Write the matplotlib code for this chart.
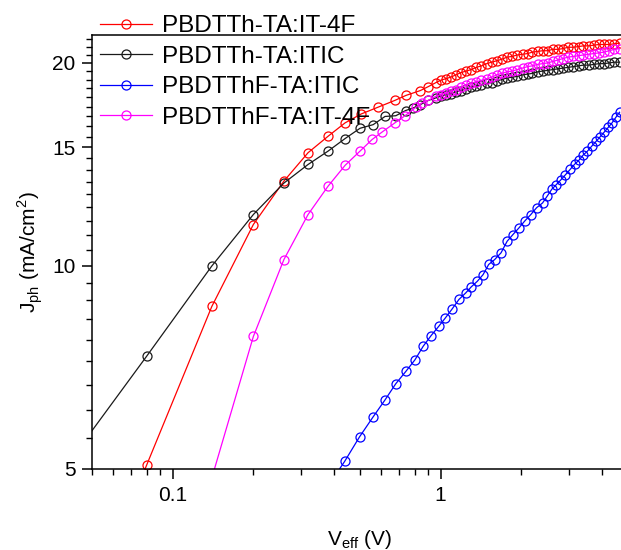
import numpy as np
import matplotlib
matplotlib.use("Agg")
import matplotlib.pyplot as plt
from matplotlib.ticker import FixedLocator, LogLocator, NullFormatter

plt.rcParams['font.family'] = ['Liberation Sans', 'DejaVu Sans']
plt.rcParams['mathtext.fontset'] = 'custom'
plt.rcParams['mathtext.rm'] = 'Liberation Sans'

labels = ["PBDTTh-TA:IT-4F", "PBDTTh-TA:ITIC", "PBDTThF-TA:ITIC", "PBDTThF-TA:IT-4F"]
colors = ["#ff0000", "#1a1a1a", "#0000ff", "#ff00ff"]

# V_eff values in the dense high-field part
x_hi = [1.0, 1.045, 1.09, 1.14, 1.19, 1.245, 1.3, 1.36, 1.42, 1.485, 1.55, 1.62, 1.69,
        1.77, 1.85, 1.93, 2.02, 2.11, 2.2, 2.3, 2.4, 2.51, 2.62, 2.74, 2.86, 2.99, 3.13,
        3.27, 3.41, 3.57, 3.73, 3.9, 4.07, 4.25, 4.45, 4.65]

# PBDTTh-TA:IT-4F
x_red = [0.02, 0.08, 0.14, 0.20, 0.26, 0.32, 0.38, 0.44, 0.505, 0.585, 0.675, 0.742,
         0.84, 0.9, 0.96] + x_hi
y_red = [1.3, 5.07, 8.71, 11.52, 13.36, 14.72, 15.57, 16.3, 16.8, 17.2, 17.6, 17.9,
         18.2, 18.45, 18.7,
         18.85, 18.95, 19.05, 19.2, 19.35, 19.45, 19.55, 19.7, 19.8, 19.95, 20.05, 20.15, 20.25,
         20.4, 20.45, 20.55, 20.6, 20.65, 20.75, 20.8, 20.85, 20.85, 20.95, 20.95, 21.0, 21.1,
         21.1, 21.15, 21.2, 21.2, 21.25, 21.3, 21.3, 21.3, 21.35, 21.4]

# PBDTTh-TA:ITIC
x_blk = [0.02, 0.08, 0.14, 0.20, 0.26, 0.32, 0.38, 0.44, 0.50, 0.56, 0.62, 0.68, 0.74,
         0.79, 0.84, 0.9, 0.96] + x_hi
y_blk = [3.47, 7.35, 10.0, 11.92, 13.27, 14.14, 14.8, 15.45, 16.0, 16.2, 16.66, 16.7, 17.0,
         17.15, 17.35, 17.6, 17.75,
         17.85, 17.95, 18.0, 18.1, 18.2, 18.3, 18.4, 18.5, 18.55, 18.65, 18.7, 18.8, 18.9,
         19.0, 19.05, 19.1, 19.2, 19.25, 19.3, 19.4, 19.45, 19.5, 19.55, 19.6, 19.65, 19.7,
         19.75, 19.8, 19.85, 19.85, 19.9, 19.95, 19.95, 20.0, 20.05, 20.05]

# PBDTThF-TA:ITIC
x_blu = [0.38, 0.438, 0.498, 0.559, 0.62, 0.68, 0.742, 0.802, 0.86, 0.92, 0.984, 1.04,
         1.10, 1.17, 1.24, 1.30, 1.37, 1.44, 1.51, 1.59, 1.68, 1.77, 1.86, 1.96, 2.06,
         2.17, 2.28, 2.4, 2.5, 2.6, 2.7, 2.8, 2.92, 3.04, 3.16, 3.28, 3.4, 3.53, 3.66,
         3.8, 3.94, 4.08, 4.22, 4.36, 4.5, 4.65]
y_blu = [4.72, 5.13, 5.58, 5.97, 6.33, 6.69, 6.98, 7.26, 7.6, 7.88, 8.14, 8.37,
         8.62, 8.92, 9.12, 9.31, 9.49, 9.71, 10.05, 10.22, 10.46, 10.88, 11.13, 11.39, 11.66,
         11.92, 12.2, 12.4, 12.7, 13.0, 13.2, 13.4, 13.65, 13.9, 14.15, 14.35, 14.6, 14.8, 15.05,
         15.3, 15.55, 15.8, 16.05, 16.3, 16.6, 16.9]

# PBDTThF-TA:IT-4F
x_mag = [0.08, 0.14, 0.20, 0.26, 0.32, 0.38, 0.44, 0.50, 0.555, 0.605, 0.675, 0.736,
         0.81, 0.85, 0.9, 0.96] + x_hi
y_mag = [2.1, 4.85, 7.86, 10.22, 11.92, 13.13, 14.1, 14.8, 15.4, 15.8, 16.3, 16.7,
         17.2, 17.45, 17.6, 17.85,
         17.95, 18.05, 18.15, 18.25, 18.4, 18.55, 18.65, 18.75, 18.85, 18.95, 19.05, 19.2, 19.3,
         19.4, 19.45, 19.55, 19.65, 19.75, 19.8, 19.9, 19.95, 20.0, 20.1, 20.2, 20.3, 20.4,
         20.45, 20.5, 20.55, 20.6, 20.65, 20.7, 20.75, 20.85, 20.95, 21.0]

series = [(x_red, y_red), (x_blk, y_blk), (x_blu, y_blu), (x_mag, y_mag)]

fig = plt.figure(figsize=(6.21, 5.5), dpi=100)
ax = fig.add_axes([92/621, 81/550, 536/621, 434/550])

for (xs, ys), c, lab in zip(series, colors, labels):
    ax.plot(xs, ys, color=c, lw=0.9, marker='o', ms=6.5, mfc='none', mec=c, mew=0.9, label=lab)

ax.set_xscale('log')
ax.set_yscale('log')
ax.set_xlim(0.05, 5)
ax.set_ylim(5, 22)

ax.xaxis.set_major_locator(FixedLocator([0.1, 1]))
ax.xaxis.set_minor_locator(LogLocator(base=10, subs=np.arange(2, 10)))
ax.xaxis.set_minor_formatter(NullFormatter())
ax.set_xticklabels(["0.1", "1"])

ax.yaxis.set_major_locator(FixedLocator([5, 10, 15, 20]))
ax.yaxis.set_minor_locator(FixedLocator(np.arange(5, 22.01, 5/9)))
ax.yaxis.set_minor_formatter(NullFormatter())
ax.set_yticklabels(["5", "10", "15", "20"])

ax.tick_params(which='major', direction='out', length=7, width=1.1, labelsize=15, pad=5)
ax.tick_params(which='minor', direction='out', length=4, width=1.0)
ax.tick_params(top=False, right=False)
for s in ax.spines.values():
    s.set_linewidth(1.1)

ax.set_xlabel(r'V$_\mathregular{eff}$ (V)', fontsize=15, labelpad=17)
ax.set_ylabel(r'J$_\mathregular{ph}$ (mA/cm$^\mathregular{2}$)', fontsize=15, labelpad=5)

fig.legend(loc='upper left', bbox_to_anchor=(100/621, 1 - 15/550), frameon=False,
           fontsize=17.5, handlelength=2.14, handletextpad=0.41, labelspacing=0.35,
           borderpad=0, borderaxespad=0)

fig.savefig('out.png', dpi=100)
